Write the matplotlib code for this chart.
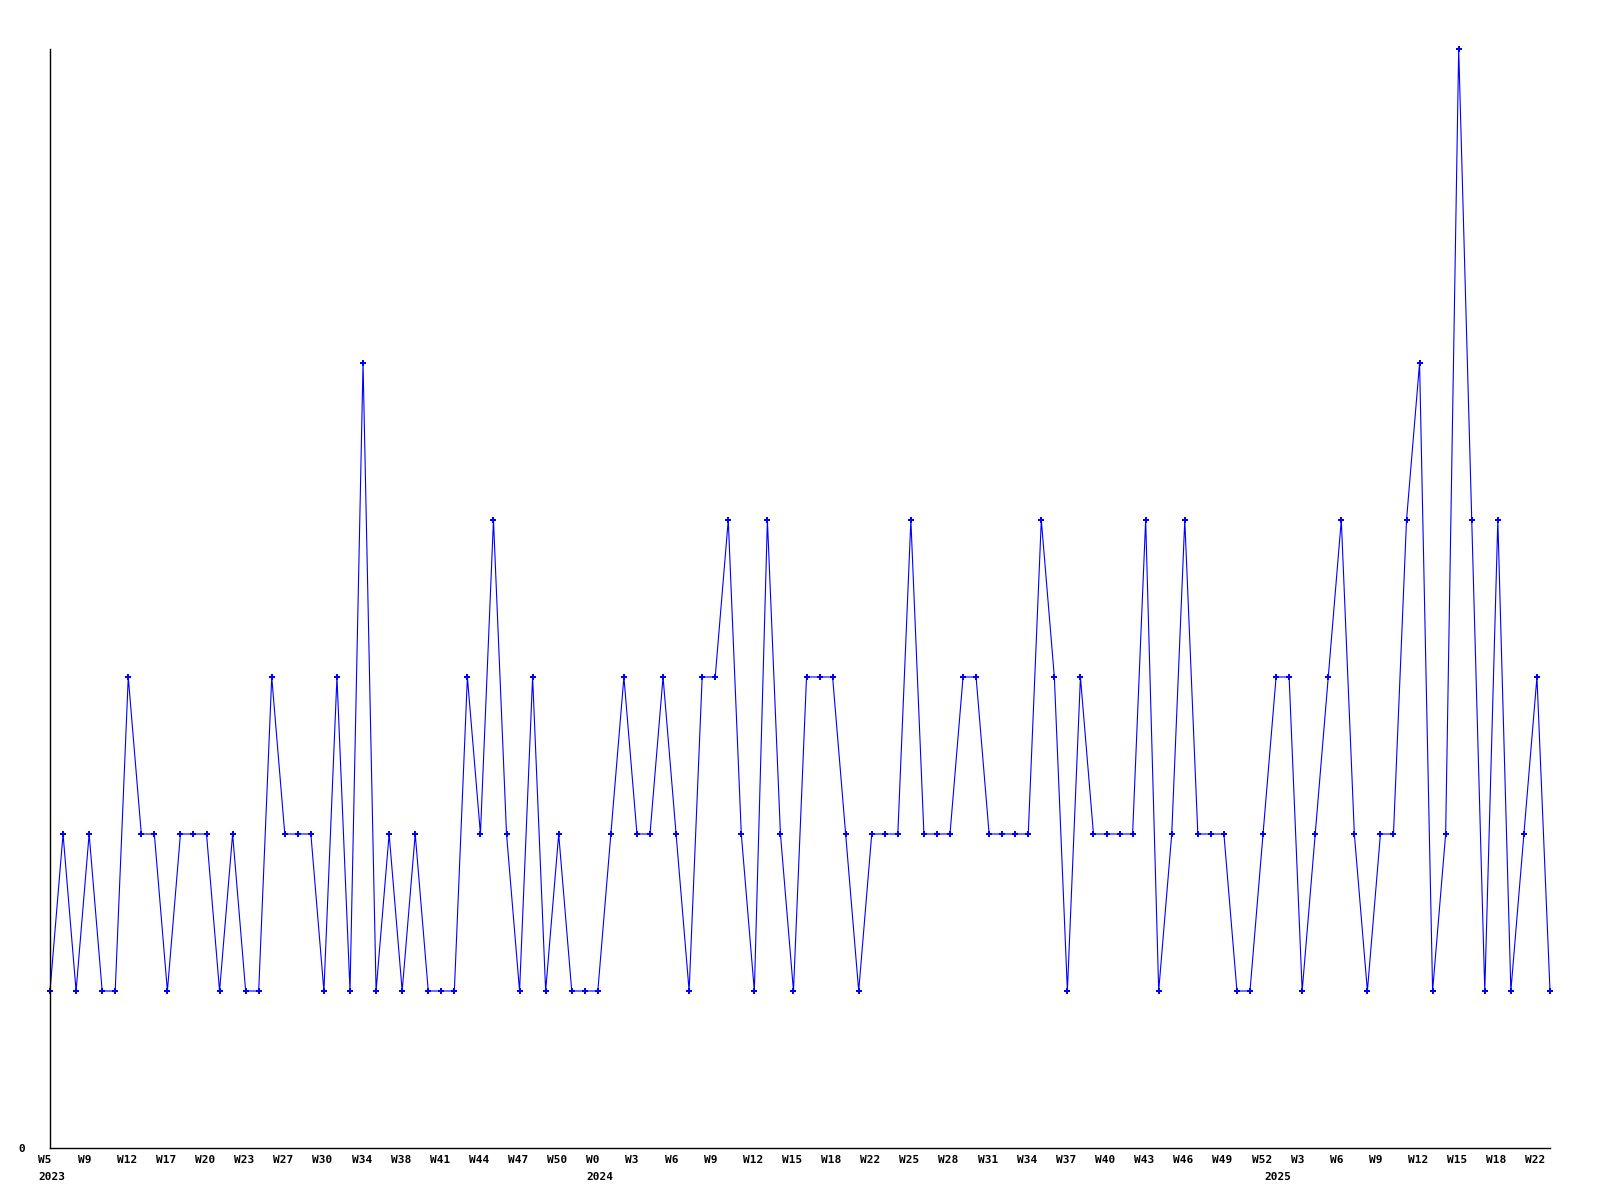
import matplotlib
matplotlib.use("Agg")
import matplotlib.pyplot as plt
from matplotlib.transforms import ScaledTranslation, blended_transform_factory

# weekly counts, Week 5 2023 .. Week 22 2025
values = [1, 2, 1, 2, 1, 1, 3, 2, 2, 1, 2, 2, 2, 1, 2, 1, 1, 3, 2, 2,
          2, 1, 3, 1, 5, 1, 2, 1, 2, 1, 1, 1, 3, 2, 4, 2, 1, 3, 1, 2,
          1, 1, 1, 2, 3, 2, 2, 3, 2, 1, 3, 3, 4, 2, 1, 4, 2, 1, 3, 3,
          3, 2, 1, 2, 2, 2, 4, 2, 2, 2, 3, 3, 2, 2, 2, 2, 4, 3, 1, 3,
          2, 2, 2, 2, 4, 1, 2, 4, 2, 2, 2, 1, 1, 2, 3, 3, 1, 2, 3, 4,
          2, 1, 2, 2, 4, 5, 1, 2, 7, 4, 1, 4, 1, 2, 3, 1]

week_labels = ["W5", "W9", "W12", "W17", "W20", "W23", "W27", "W30", "W34", "W38",
               "W41", "W44", "W47", "W50", "W0", "W3", "W6", "W9", "W12", "W15",
               "W18", "W22", "W25", "W28", "W31", "W34", "W37", "W40", "W43", "W46",
               "W49", "W52", "W3", "W6", "W9", "W12", "W15", "W18", "W22"]
label_step = 3

year_labels = ["2023", "2024", "2025"]
year_index = [0, 42, 94]

fig = plt.figure(figsize=(16, 12), dpi=100)
ax = fig.add_axes([50/1600, 52/1200, 1500/1600, 1099/1200])

x = list(range(len(values)))
ax.plot(x, values, color="#0000FF", lw=0.8, marker="P", markersize=4.2,
        markeredgewidth=0, clip_on=False)

ax.set_xlim(0, len(values) - 1)
ax.set_ylim(0, max(values))

for s in ["top", "right"]:
    ax.spines[s].set_visible(False)
for s in ["left", "bottom"]:
    ax.spines[s].set_linewidth(1.0)
    ax.spines[s].set_color("black")

font = dict(family="DejaVu Sans Mono", weight="bold", size=8)

ax.set_yticks([0])
ax.set_yticklabels(["0"], **font)
ax.tick_params(axis="y", length=0, pad=18)

ticks = [i * label_step for i in range(len(week_labels))]
ax.set_xticks(ticks)
ax.set_xticklabels(week_labels, **font)
ax.tick_params(axis="x", length=0, pad=5)
shift = ScaledTranslation(-11.5/100, 0, fig.dpi_scale_trans)
for lab in ax.get_xticklabels():
    lab.set_ha("left")
    lab.set_transform(lab.get_transform() + shift)

trans = blended_transform_factory(ax.transData, ax.transAxes) + \
    ScaledTranslation(-11.5/100, -24/100, fig.dpi_scale_trans)
for lab, idx in zip(year_labels, year_index):
    ax.text(idx, 0, lab, transform=trans, ha="left", va="top", **font)

fig.savefig("out.png", dpi=100)
